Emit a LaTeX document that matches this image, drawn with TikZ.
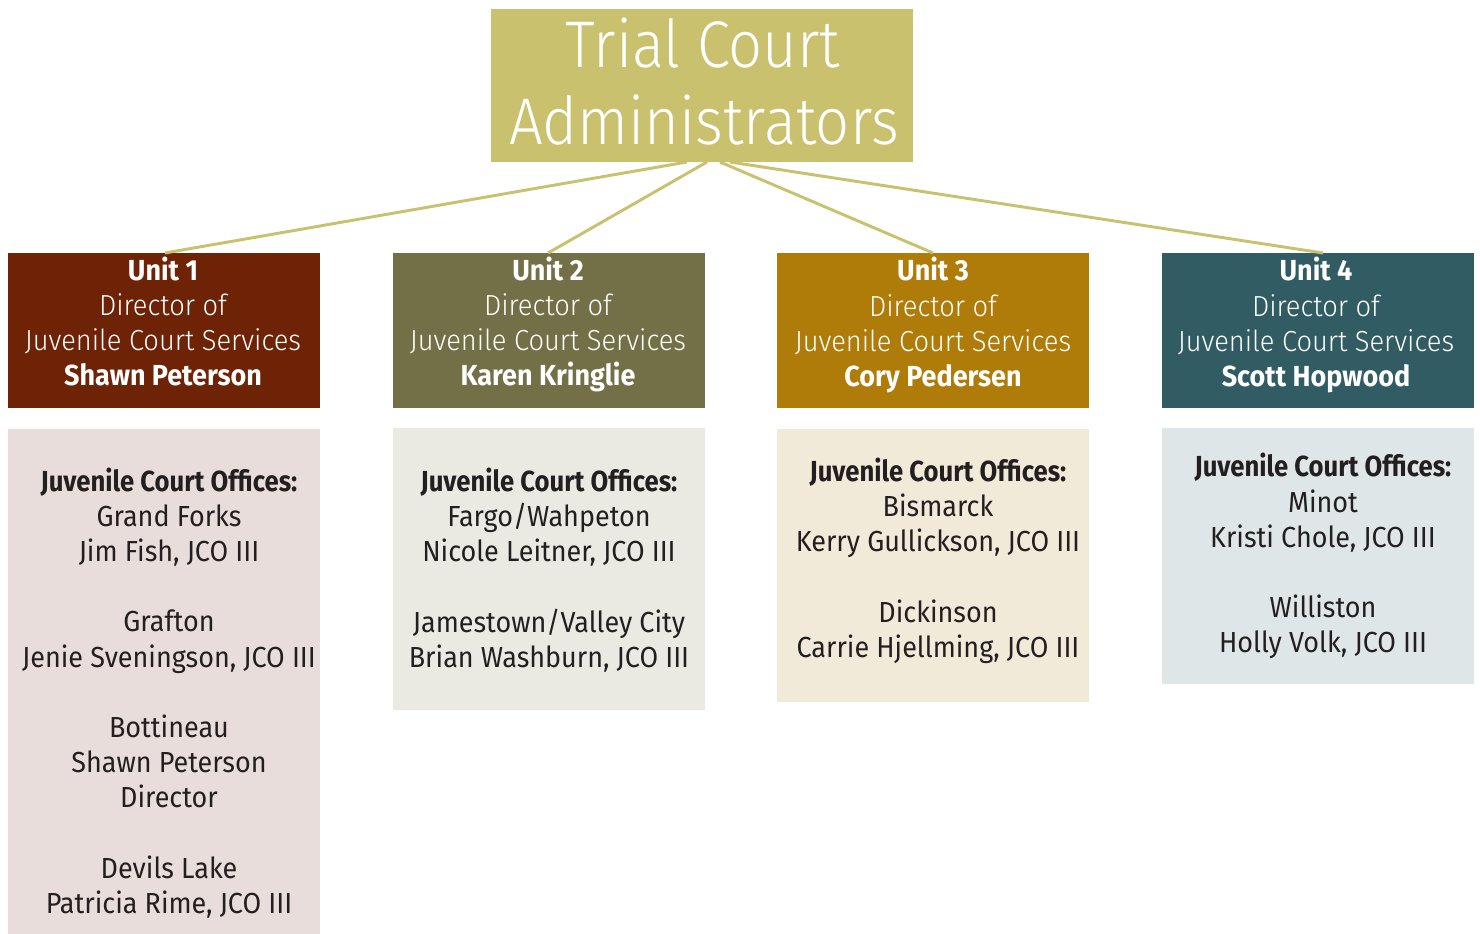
\documentclass[tikz,border=0pt]{standalone}
\usepackage{fontspec}
\setmainfont{Fira Sans}[FakeStretch=0.93]
\newfontfamily\lightfont{Fira Sans Light}[FakeStretch=0.94]
\newfontfamily\titlefont{Fira Sans Light}[FakeStretch=0.905]
\newfontfamily\officefont{Fira Sans}[FakeStretch=0.885]
\definecolor{titlebg}{HTML}{C9C16D}
\definecolor{uone}{HTML}{6E2306}
\definecolor{utwo}{HTML}{737048}
\definecolor{uthree}{HTML}{AF7C0A}
\definecolor{ufour}{HTML}{325C63}
\definecolor{lone}{HTML}{E8DDDA}
\definecolor{ltwo}{HTML}{EAE9E2}
\definecolor{lthree}{HTML}{F2EAD9}
\definecolor{lfour}{HTML}{DFE6E8}
\definecolor{ink}{HTML}{231F20}
\tikzset{
  box/.style={rectangle, inner sep=0pt, anchor=north west, draw=none},
  ubox/.style={box, minimum width=234pt, minimum height=116.25pt},
  hd/.style={inner sep=0pt, anchor=base, text=white, font=\fontsize{21.75pt}{26pt}\selectfont\bfseries},
  lt/.style={inner sep=0pt, anchor=base, text=white, font=\fontsize{21.75pt}{26pt}\selectfont\lightfont},
  bd/.style={inner sep=0pt, anchor=base, text=ink, font=\fontsize{21.75pt}{26pt}\selectfont\officefont\bfseries},
  tx/.style={inner sep=0pt, anchor=base, text=ink, font=\fontsize{21.75pt}{26pt}\selectfont},
  ttl/.style={inner sep=0pt, anchor=base, text=white, font=\fontsize{49.5pt}{58pt}\selectfont\titlefont},
  link/.style={draw=titlebg, line width=2.2pt},
}
\begin{document}
\begin{tikzpicture}[x=0.75pt, y=-0.75pt]
\useasboundingbox (0,0) rectangle (1480,934);
% title
\node[box, fill=titlebg, minimum width=316.5pt, minimum height=114.75pt] (top) at (491,9) {};
\node[ttl] (t1) at (703,68) {Trial Court};
\node[ttl] (t2) at (704,145) {Administrators};
% unit boxes
\node[ubox, fill=uone] (u1) at (8,253) {};
\node[ubox, fill=utwo] (u2) at (393,253) {};
\node[ubox, fill=uthree] (u3) at (777,253) {};
\node[ubox, fill=ufour] (u4) at (1162,253) {};
% lower boxes
\node[box, fill=lone, minimum width=234pt, minimum height=378.75pt] (l1) at (8,429) {};
\node[box, fill=ltwo, minimum width=234pt, minimum height=211.5pt] (l2) at (393,428) {};
\node[box, fill=lthree, minimum width=234pt, minimum height=204.75pt] (l3) at (777,429) {};
\node[box, fill=lfour, minimum width=234pt, minimum height=192pt] (l4) at (1162,428) {};
% connectors
\coordinate (s1) at (687,162);
\coordinate (s2) at (707,162);
\coordinate (s3) at (720,162);
\coordinate (s4) at (730,162);
\coordinate (e1) at (165,253);
\coordinate (e2) at (548,253);
\coordinate (e3) at (933,253);
\coordinate (e4) at (1323,253);
\draw[link] (s1) -- (e1);
\draw[link] (s2) -- (e2);
\draw[link] (s3) -- (e3);
\draw[link] (s4) -- (e4);
% unit texts
\node[hd] (u1a) at (163,280) {Unit 1};
\node[lt] (u1b) at (163,315) {Director of};
\node[lt] (u1c) at (163,350) {Juvenile Court Services};
\node[hd] (u1d) at (163,385) {Shawn Peterson};
\node[hd] (u2a) at (548,280) {Unit 2};
\node[lt] (u2b) at (548,315) {Director of};
\node[lt] (u2c) at (548,350) {Juvenile Court Services};
\node[hd] (u2d) at (548,385) {Karen Kringlie};
\node[hd] (u3a) at (933,281) {Unit 3};
\node[lt] (u3b) at (933,316) {Director of};
\node[lt] (u3c) at (933,351) {Juvenile Court Services};
\node[hd] (u3d) at (933,386) {Cory Pedersen};
\node[hd] (u4a) at (1316,281) {Unit 4};
\node[lt] (u4b) at (1316,316) {Director of};
\node[lt] (u4c) at (1316,351) {Juvenile Court Services};
\node[hd] (u4d) at (1316,386) {Scott Hopwood};
% lower texts unit 1
\node[bd] (o1a) at (169,491) {Juvenile Court Offices:};
\node[tx] (o1b) at (169,526) {Grand Forks};
\node[tx] (o1c) at (169,561) {Jim Fish, JCO III};
\node[tx] (o1d) at (169,631) {Grafton};
\node[tx] (o1e) at (169,667) {Jenie Sveningson, JCO III};
\node[tx] (o1f) at (169,737) {Bottineau};
\node[tx] (o1g) at (169,772) {Shawn Peterson};
\node[tx] (o1h) at (169,807) {Director};
\node[tx] (o1i) at (169,878) {Devils Lake};
\node[tx] (o1j) at (169,913) {Patricia Rime, JCO III};
% unit 2
\node[bd] (o2a) at (549,491) {Juvenile Court Offices:};
\node[tx] (o2b) at (549,526) {Fargo/Wahpeton};
\node[tx] (o2c) at (549,561) {Nicole Leitner, JCO III};
\node[tx] (o2d) at (549,632) {Jamestown/Valley City};
\node[tx] (o2e) at (549,667) {Brian Washburn, JCO III};
% unit 3
\node[bd] (o3a) at (938,481) {Juvenile Court Offices:};
\node[tx] (o3b) at (938,516) {Bismarck};
\node[tx] (o3c) at (938,551) {Kerry Gullickson, JCO III};
\node[tx] (o3d) at (938,622) {Dickinson};
\node[tx] (o3e) at (938,657) {Carrie Hjellming, JCO III};
% unit 4
\node[bd] (o4a) at (1323,476) {Juvenile Court Offices:};
\node[tx] (o4b) at (1323,512) {Minot};
\node[tx] (o4c) at (1323,547) {Kristi Chole, JCO III};
\node[tx] (o4d) at (1323,617) {Williston};
\node[tx] (o4e) at (1323,652) {Holly Volk, JCO III};
\end{tikzpicture}
\end{document}
